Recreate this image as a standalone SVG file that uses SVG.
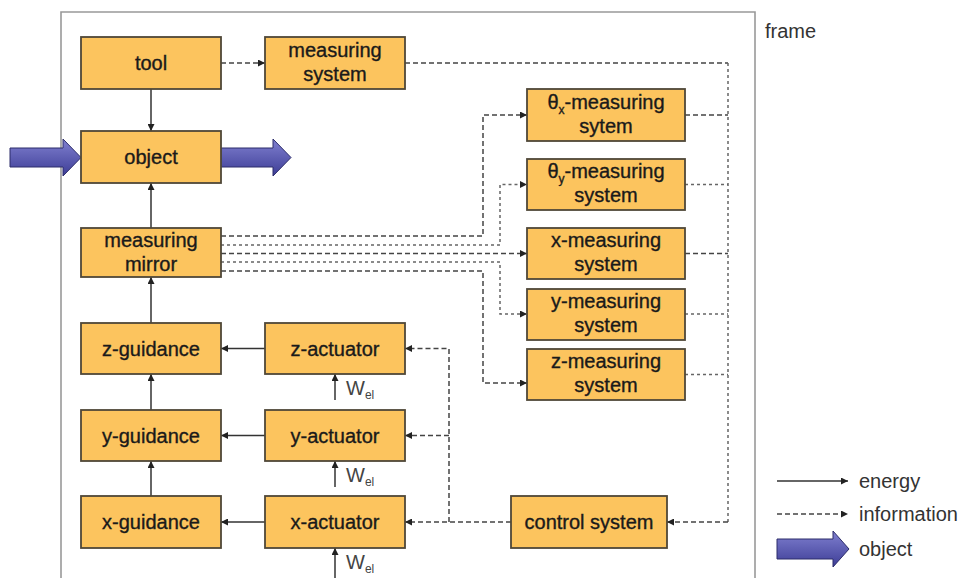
<svg xmlns="http://www.w3.org/2000/svg" width="959" height="578" viewBox="0 0 959 578">
<defs>
<style>
.box{fill:#FCC45E;stroke:#4f4738;stroke-width:1.8}
.t{font-family:"Liberation Sans",Arial,sans-serif;font-size:20px;fill:#1a1a1a;stroke:#1a1a1a;stroke-width:0.35;text-anchor:middle}
.lg{font-family:"Liberation Sans",Arial,sans-serif;font-size:20px;fill:#333}
.w{font-family:"Liberation Sans",Arial,sans-serif;font-size:20px;fill:#444}
.en{fill:none;stroke:#333;stroke-width:1.5}
.inf{fill:none;stroke:#444;stroke-width:1.5;stroke-dasharray:5 3}
.inf2{fill:none;stroke:#666;stroke-width:1.5;stroke-dasharray:3 3}
.obj{fill:url(#bg);stroke:#2c2c6a;stroke-width:1}
</style>
<linearGradient id="bg" x1="0" y1="0" x2="0" y2="1">
<stop offset="0" stop-color="#8080d0"/>
<stop offset="1" stop-color="#3d3d96"/>
</linearGradient>
<marker id="ah" viewBox="0 0 10 10" refX="10" refY="5" markerWidth="8" markerHeight="7" markerUnits="userSpaceOnUse" orient="auto">
<path d="M0,0 L10,5 L0,10 Z" fill="#222"/>
</marker>
</defs>
<rect width="959" height="578" fill="#ffffff"/>
<g id="frame">
<path d="M61,578 V12 H755 V578" fill="none" stroke="#999" stroke-width="1.6"/>
<text class="lg" x="765" y="38">frame</text>
</g>

<g id="connectors">
<!-- energy -->
<path class="en" d="M151,89 V131" marker-end="url(#ah)"/>
<path class="en" d="M151,228 V183" marker-end="url(#ah)"/>
<path class="en" d="M151,323 V277" marker-end="url(#ah)"/>
<path class="en" d="M151,410 V374" marker-end="url(#ah)"/>
<path class="en" d="M151,496 V461" marker-end="url(#ah)"/>
<path class="en" d="M265,348.5 H221" marker-end="url(#ah)"/>
<path class="en" d="M265,435.5 H221" marker-end="url(#ah)"/>
<path class="en" d="M265,522 H221" marker-end="url(#ah)"/>
<path class="en" d="M335,400 V374" marker-end="url(#ah)"/>
<path class="en" d="M335,487 V461" marker-end="url(#ah)"/>
<path class="en" d="M335,578 V548" marker-end="url(#ah)"/>
<!-- information -->
<path class="inf" d="M221,63 H265" marker-end="url(#ah)"/>
<path class="inf" d="M405,63 H728"/>
<path class="inf2" d="M728,63 V522"/>
<path class="inf" d="M728,522 H667" marker-end="url(#ah)"/>
<path class="inf" d="M685,115 H728"/>
<path class="inf2" d="M685,184.5 H728"/>
<path class="inf" d="M685,253.5 H728"/>
<path class="inf2" d="M685,314 H728"/>
<path class="inf2" d="M685,374.5 H728"/>
<path class="inf" d="M221,236 H483 V115 H527" marker-end="url(#ah)"/>
<path class="inf2" d="M221,245 H500 V184.5 H527" marker-end="url(#ah)"/>
<path class="inf" d="M221,253.5 H527" marker-end="url(#ah)"/>
<path class="inf2" d="M221,262 H500 V314 H527" marker-end="url(#ah)"/>
<path class="inf" d="M221,271 H483 V383 H527" marker-end="url(#ah)"/>
<path class="inf" d="M511,522 H405" marker-end="url(#ah)"/>
<path class="inf" d="M449,522 V348.5 H405" marker-end="url(#ah)"/>
<path class="inf" d="M449,435.5 H405" marker-end="url(#ah)"/>
<!-- object flow -->
<path class="obj" d="M10,148 H63 V139 L81,157.5 L63,176 V167 H10 Z"/>
<path class="obj" d="M221,148 H273 V139 L291,157.5 L273,176 V167 H221 Z"/>
</g>

<g id="tool"><rect class="box" x="81" y="37" width="140" height="52"/><text class="t" x="151" y="70">tool</text></g>
<g id="measuring-system"><rect class="box" x="265" y="37" width="140" height="52"/><text class="t" x="335" y="57">measuring</text><text class="t" x="335" y="81">system</text></g>
<g id="object"><rect class="box" x="81" y="131" width="140" height="52"/><text class="t" x="151" y="164">object</text></g>
<g id="measuring-mirror"><rect class="box" x="81" y="228" width="140" height="49"/><text class="t" x="151" y="247">measuring</text><text class="t" x="151" y="271">mirror</text></g>
<g id="z-guidance"><rect class="box" x="81" y="323" width="140" height="51"/><text class="t" x="151" y="355.5">z-guidance</text></g>
<g id="y-guidance"><rect class="box" x="81" y="410" width="140" height="51"/><text class="t" x="151" y="442.5">y-guidance</text></g>
<g id="x-guidance"><rect class="box" x="81" y="496" width="140" height="52"/><text class="t" x="151" y="529">x-guidance</text></g>
<g id="z-actuator"><rect class="box" x="265" y="323" width="140" height="51"/><text class="t" x="335" y="355.5">z-actuator</text></g>
<g id="y-actuator"><rect class="box" x="265" y="410" width="140" height="51"/><text class="t" x="335" y="442.5">y-actuator</text></g>
<g id="x-actuator"><rect class="box" x="265" y="496" width="140" height="52"/><text class="t" x="335" y="529">x-actuator</text></g>
<g id="thx-measuring"><rect class="box" x="527" y="89" width="158" height="52"/><text class="t" x="606" y="109">θ<tspan font-size="12" dy="5">x</tspan><tspan dy="-5">-measuring</tspan></text><text class="t" x="606" y="133">sytem</text></g>
<g id="thy-measuring"><rect class="box" x="527" y="159" width="158" height="51"/><text class="t" x="606" y="178">θ<tspan font-size="12" dy="5">y</tspan><tspan dy="-5">-measuring</tspan></text><text class="t" x="606" y="202">system</text></g>
<g id="x-measuring"><rect class="box" x="527" y="228" width="158" height="51"/><text class="t" x="606" y="247">x-measuring</text><text class="t" x="606" y="271">system</text></g>
<g id="y-measuring"><rect class="box" x="527" y="289" width="158" height="51"/><text class="t" x="606" y="308">y-measuring</text><text class="t" x="606" y="332">system</text></g>
<g id="z-measuring"><rect class="box" x="527" y="349" width="158" height="51"/><text class="t" x="606" y="368">z-measuring</text><text class="t" x="606" y="392">system</text></g>
<g id="control-system"><rect class="box" x="511" y="496" width="156" height="52"/><text class="t" x="589" y="529">control system</text></g>

<g id="wel-labels">
<text class="w" x="346" y="395">W<tspan font-size="12" dy="4">el</tspan></text>
<text class="w" x="346" y="482">W<tspan font-size="12" dy="4">el</tspan></text>
<text class="w" x="346" y="569">W<tspan font-size="12" dy="4">el</tspan></text>
</g>

<g id="legend">
<path class="en" d="M777,481 H848" marker-end="url(#ah)"/>
<text class="lg" x="859" y="488">energy</text>
<path class="inf" d="M777,514 H848" marker-end="url(#ah)"/>
<text class="lg" x="859" y="521">information</text>
<path class="obj" d="M777,539 H833 V531 L849,549 L833,567 V559 H777 Z"/>
<text class="lg" x="859" y="556">object</text>
</g>
</svg>
